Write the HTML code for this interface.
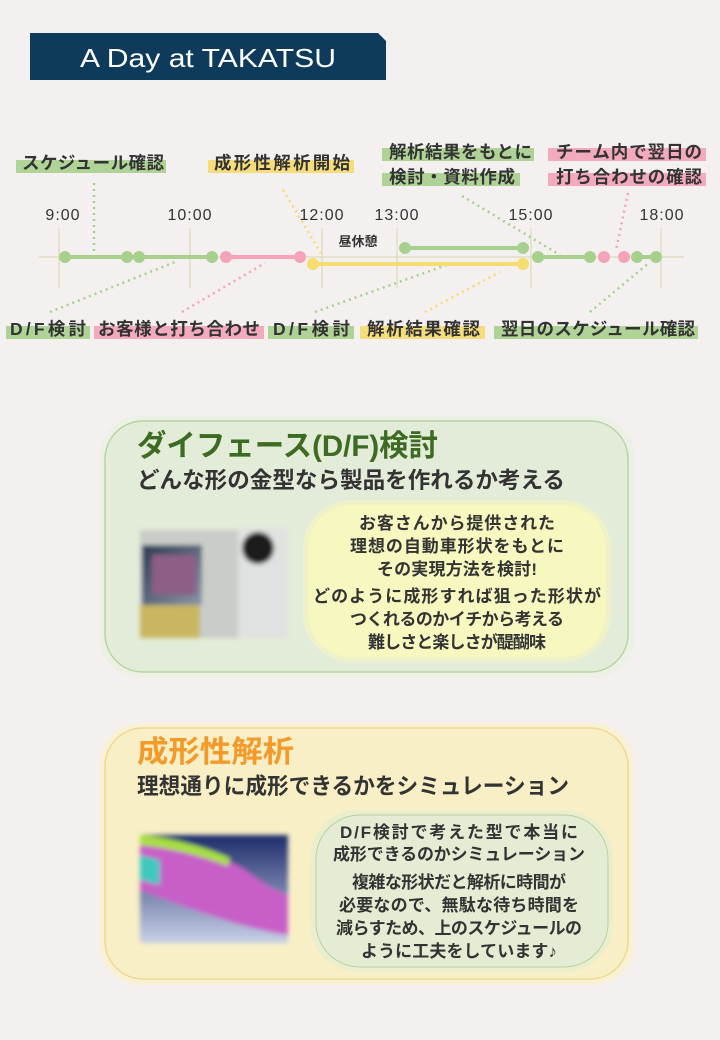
<!DOCTYPE html>
<html><head><meta charset="utf-8"><style>
body{margin:0;background:#f3f0ef;}
svg{display:block;font-family:"Liberation Sans","Noto Sans CJK JP",sans-serif;font-weight:bold;}
</style></head><body>
<svg width="720" height="1040" viewBox="0 0 720 1040" xmlns="http://www.w3.org/2000/svg">
<defs>
<filter id="bl" x="-10%" y="-10%" width="120%" height="120%"><feGaussianBlur stdDeviation="2.5"/></filter>
<linearGradient id="sc" x1="0" y1="0" x2="1" y2="1"><stop offset="0" stop-color="#2b3b52"/><stop offset="1" stop-color="#8a96a8"/></linearGradient>
<linearGradient id="an" x1="0" y1="0" x2="0" y2="1"><stop offset="0" stop-color="#1d2c6a"/><stop offset="1" stop-color="#c8d0e8"/></linearGradient>
</defs>
<rect width="720" height="1040" fill="#f3f0ef"/>
<path d="M30 33 H378 L386 41 V80 H30 Z" fill="#0e3a5c"/>
<text x="80" y="67" font-size="26" fill="#fff" font-weight="normal" textLength="256" lengthAdjust="spacingAndGlyphs">A Day at TAKATSU</text>

<g opacity="0.9">
<rect x="16" y="160" width="150" height="13" fill="#a8d08d"/>
<rect x="208" y="160" width="146" height="13" fill="#f7dc6f"/>
<rect x="382" y="148" width="152" height="13" fill="#a8d08d"/>
<rect x="382" y="173" width="138" height="13" fill="#a8d08d"/>
<rect x="548" y="148" width="158" height="13" fill="#f5a3b8"/>
<rect x="548" y="173" width="158" height="13" fill="#f5a3b8"/>
<rect x="6" y="326" width="84" height="13" fill="#a8d08d"/>
<rect x="94" y="326" width="170" height="13" fill="#f5a3b8"/>
<rect x="268" y="326" width="86" height="13" fill="#a8d08d"/>
<rect x="360" y="326" width="125" height="13" fill="#f7dc6f"/>
<rect x="494" y="326" width="204" height="13" fill="#a8d08d"/>
</g>
<g font-size="17.5" fill="#333" lengthAdjust="spacingAndGlyphs">
<text x="22" y="169" textLength="142">スケジュール確認</text>
<text x="214" y="169" textLength="136">成形性解析開始</text>
<text x="389" y="158" textLength="143">解析結果をもとに</text>
<text x="389" y="183" textLength="126">検討・資料作成</text>
<text x="556" y="158" textLength="146">チーム内で翌日の</text>
<text x="556" y="183" textLength="146">打ち合わせの確認</text>
<text x="10" y="335" textLength="76">D/F検討</text>
<text x="98" y="335" textLength="162">お客様と打ち合わせ</text>
<text x="273" y="335" textLength="77">D/F検討</text>
<text x="367" y="335" textLength="113">解析結果確認</text>
<text x="501" y="335" textLength="194">翌日のスケジュール確認</text>
</g>
<g font-size="16" fill="#333" text-anchor="middle" font-weight="normal" letter-spacing="1">
<text x="63" y="220">9:00</text><text x="190" y="220">10:00</text><text x="322" y="220">12:00</text>
<text x="397" y="220">13:00</text><text x="531" y="220">15:00</text><text x="662" y="220">18:00</text>
</g>
<text x="358" y="246" font-size="13" fill="#333" text-anchor="middle">昼休憩</text>
<g stroke="#d8d3b0" stroke-width="1">
<line x1="38" y1="257" x2="684" y2="257"/>
<line x1="59" y1="228" x2="59" y2="288"/><line x1="190" y1="228" x2="190" y2="288"/>
<line x1="322" y1="228" x2="322" y2="288"/><line x1="397" y1="228" x2="397" y2="288"/>
<line x1="531" y1="228" x2="531" y2="288"/><line x1="661" y1="228" x2="661" y2="288"/>
</g>
<g stroke-width="2.5" stroke-dasharray="2 4" fill="none">
<line x1="94" y1="183" x2="94" y2="252" stroke="#a8d08d"/>
<line x1="50" y1="312" x2="175" y2="262" stroke="#a8d08d"/>
<line x1="182" y1="312" x2="265" y2="263" stroke="#f5a3b8"/>
<line x1="283" y1="190" x2="322" y2="255" stroke="#f7dc6f"/>
<line x1="315" y1="312" x2="455" y2="262" stroke="#a8d08d"/>
<line x1="425" y1="312" x2="500" y2="272" stroke="#f7dc6f"/>
<line x1="462" y1="196" x2="560" y2="255" stroke="#a8d08d"/>
<line x1="628" y1="193" x2="616" y2="250" stroke="#f5a3b8"/>
<line x1="590" y1="312" x2="650" y2="262" stroke="#a8d08d"/>
</g>
<g stroke-width="4">
<line x1="65" y1="257" x2="212" y2="257" stroke="#a8d08d"/>
<line x1="226" y1="257" x2="300" y2="257" stroke="#f5a3b8"/>
<line x1="313" y1="264" x2="523" y2="264" stroke="#f7dc6f"/>
<line x1="405" y1="248" x2="523" y2="248" stroke="#a8d08d"/>
<line x1="538" y1="257" x2="590" y2="257" stroke="#a8d08d"/>
<line x1="637" y1="257" x2="656" y2="257" stroke="#a8d08d"/>
</g>
<g fill="#a8d08d"><circle cx="65" cy="257" r="6"/><circle cx="127" cy="257" r="6"/><circle cx="139" cy="257" r="6"/><circle cx="212" cy="257" r="6"/>
<circle cx="405" cy="248" r="6"/><circle cx="523" cy="248" r="6"/><circle cx="538" cy="257" r="6"/><circle cx="590" cy="257" r="6"/><circle cx="637" cy="257" r="6"/><circle cx="656" cy="257" r="6"/></g>
<g fill="#f5a3b8"><circle cx="226" cy="257" r="6"/><circle cx="300" cy="257" r="6"/><circle cx="604" cy="257" r="6"/><circle cx="624" cy="257" r="6"/></g>
<g fill="#f7dc6f"><circle cx="313" cy="264" r="6"/><circle cx="523" cy="264" r="6"/></g>

<rect x="100" y="416" width="534" height="262" rx="40" fill="#e8f0de" opacity="0.6"/>
<rect x="105" y="421" width="523" height="251" rx="38" fill="#e3ecd8" stroke="#b9d3a0" stroke-width="1.5"/>
<text x="137" y="456" font-size="30" fill="#3d6b22" textLength="301" lengthAdjust="spacingAndGlyphs">ダイフェース(D/F)検討</text>
<text x="137" y="488" font-size="22.5" fill="#333" textLength="428" lengthAdjust="spacingAndGlyphs">どんな形の金型なら製品を作れるか考える</text>
<g filter="url(#bl)">
<rect x="140" y="530" width="148" height="108" fill="#c9ccc8"/>
<rect x="142" y="545" width="60" height="60" fill="url(#sc)"/>
<rect x="152" y="555" width="44" height="40" fill="#8e5e86"/>
<rect x="238" y="528" width="50" height="110" fill="#dfe2e0"/>
<circle cx="258" cy="548" r="16" fill="#1c1c1c"/>
<rect x="140" y="605" width="60" height="33" fill="#c9b660"/>
</g>
<rect x="303" y="500" width="308" height="162" rx="48" fill="#f6f6bf" opacity="0.6"/>
<rect x="308" y="505" width="298" height="152" rx="44" fill="#f7f8c0"/>
<g font-size="17" fill="#333" text-anchor="middle" lengthAdjust="spacingAndGlyphs">
<text x="457" y="529" textLength="196">お客さんから提供された</text>
<text x="457" y="552" textLength="214">理想の自動車形状をもとに</text>
<text x="457" y="575" textLength="160">その実現方法を検討!</text>
<text x="457" y="602" textLength="288">どのように成形すれば狙った形状が</text>
<text x="457" y="625" textLength="214">つくれるのかイチから考える</text>
<text x="457" y="648" textLength="178">難しさと楽しさが醍醐味</text>
</g>

<rect x="100" y="723" width="534" height="262" rx="40" fill="#fbf1c4" opacity="0.6"/>
<rect x="105" y="728" width="523" height="251" rx="38" fill="#f8efc6" stroke="#f0d98a" stroke-width="1.5"/>
<text x="137" y="762" font-size="30" fill="#f39a2a" textLength="157" lengthAdjust="spacingAndGlyphs">成形性解析</text>
<text x="137" y="794" font-size="22.5" fill="#333" textLength="432" lengthAdjust="spacingAndGlyphs">理想通りに成形できるかをシミュレーション</text>
<g filter="url(#bl)">
<rect x="140" y="835" width="148" height="108" fill="url(#an)"/>
<path d="M140 835 C170 840,200 850,230 862 C250 870,260 885,288 895 L288 935 C250 930,210 915,180 905 L140 890 Z" fill="#c85fc8"/>
<path d="M140 835 C170 838,200 845,230 858 L228 866 C200 855,170 848,140 845 Z" fill="#a8e040"/>
<path d="M140 855 L160 860 L160 885 L140 880 Z" fill="#40c8c0"/>
</g>
<rect x="310" y="810" width="303" height="162" rx="48" fill="#e2ecd0" opacity="0.6"/>
<rect x="316" y="815" width="292" height="152" rx="44" fill="#e4edd3" stroke="#b8d0a0" stroke-width="1"/>
<g font-size="17" fill="#333" text-anchor="middle" lengthAdjust="spacingAndGlyphs">
<text x="459" y="838" textLength="238">D/F検討で考えた型で本当に</text>
<text x="459" y="860" textLength="252">成形できるのかシミュレーション</text>
<text x="459" y="888" textLength="214">複雑な形状だと解析に時間が</text>
<text x="459" y="911" textLength="240">必要なので、無駄な待ち時間を</text>
<text x="459" y="934" textLength="246">減らすため、上のスケジュールの</text>
<text x="459" y="957" textLength="196">ように工夫をしています♪</text>
</g>
</svg>
</body></html>
